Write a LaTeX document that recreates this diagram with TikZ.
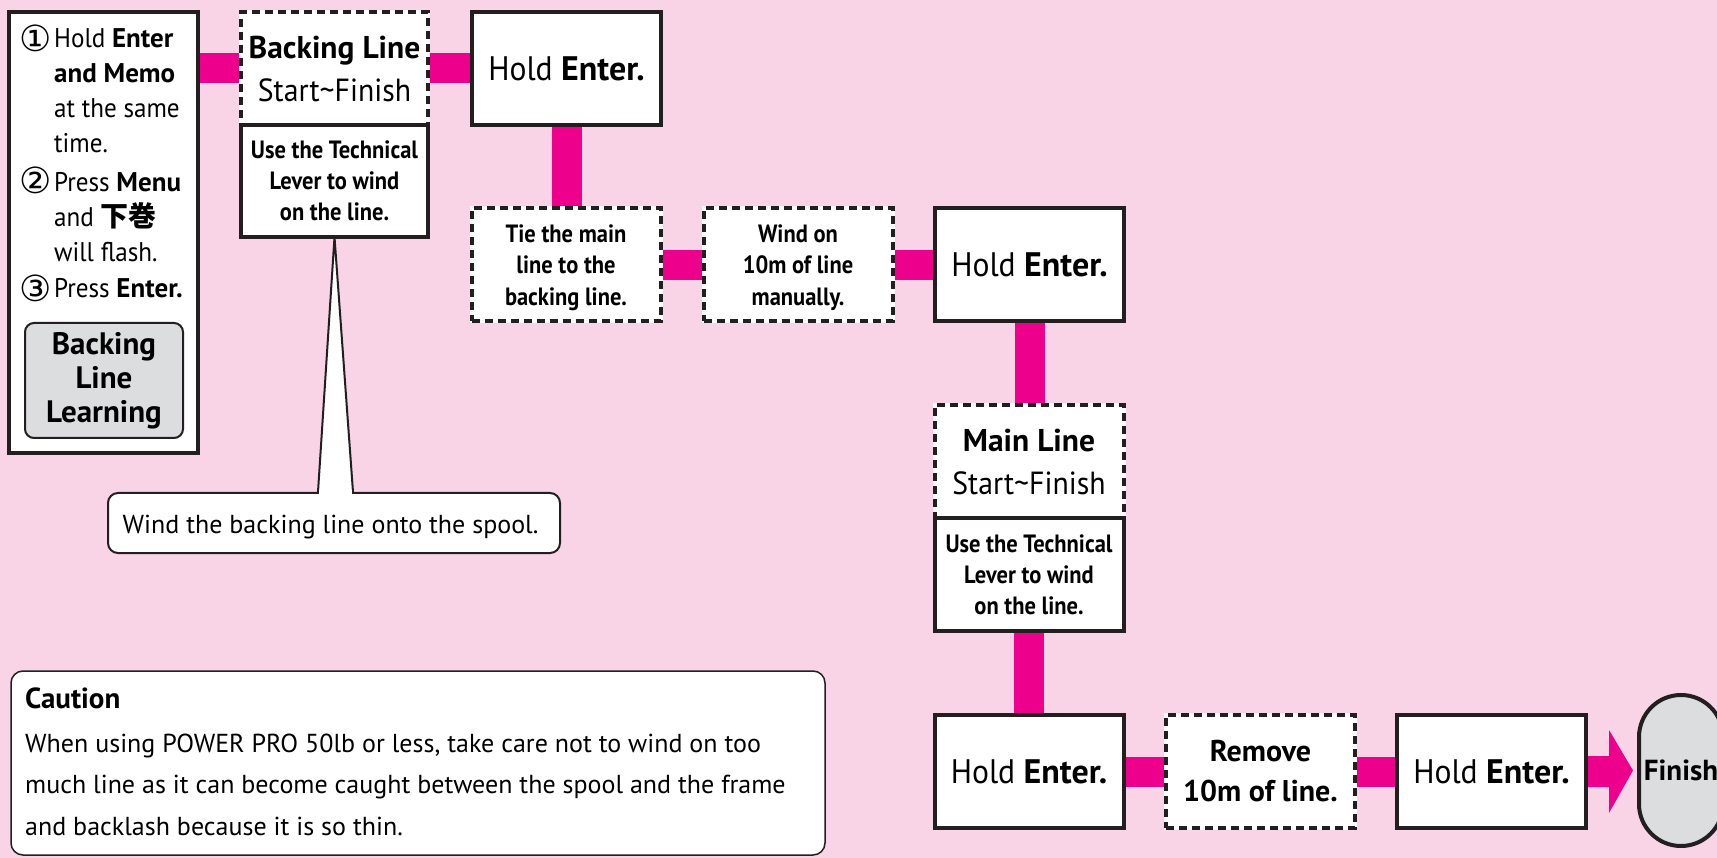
\documentclass[tikz,border=0pt]{standalone}
\usepackage{fontspec}
\setmainfont{PT Sans}[FakeStretch=0.93, BoldFeatures={FakeStretch=1.0}]
\newfontfamily\cond{PT Sans}[FakeStretch=0.9]
\newfontfamily\wide{PT Sans}
\newfontfamily\cjk{Noto Sans CJK JP}
\newfontfamily\dejavu{DejaVu Sans}
\usetikzlibrary{calc}
\pgfdeclarelayer{back}
\pgfdeclarelayer{bg}
\pgfsetlayers{back,bg,main}
\definecolor{pinkbg}{HTML}{F9D3E6}
\definecolor{mag}{HTML}{EC008C}
\definecolor{ink}{HTML}{231F20}
\definecolor{grayfill}{HTML}{DCDDDE}
\newcommand\fs[2]{\fontsize{#1}{#2}\selectfont}
\begin{document}
\begin{tikzpicture}[x=1pt,y=-1pt,
  box/.style={draw=ink, fill=white, line width=4pt, minimum width=189pt, minimum height=113pt, inner sep=0pt, outer sep=0pt, align=center},
  dbox/.style={box, dash pattern=on 8pt off 5pt, preaction={draw=white, solid}},
  conn/.style={draw=mag, line width=30pt},
  holdtxt/.style={font=\fs{34}{40}},
  techtxt/.style={font=\cond\bfseries\fs{25}{31}},
  smalltxt/.style={font=\cond\bfseries\fs{25}{31.5}, align=center, inner sep=0pt},
  circnum/.style={font=\dejavu\fs{36}{36}, inner sep=0pt}]
\begin{pgfonlayer}{back}
\fill[pinkbg] (0,0) rectangle (1717,858);
\end{pgfonlayer}
\useasboundingbox (0,0) rectangle (1717,858);

% left instruction box
\node[box, minimum width=189pt, minimum height=441pt] (left) at (103.5,232.5) {};
\node[anchor=base west, inner sep=0pt, font=\fs{27}{35}] (ltext) at (54,48) {\begin{tabular}[t]{@{}l@{}}Hold \textbf{Enter}\\ \textbf{and Memo}\\ at the same\\ time.\\[4pt] Press \textbf{Menu}\\ and {\cjk\bfseries\fs{28}{35}下巻}\\ will flash.\\[1pt] Press \textbf{Enter.}\end{tabular}};
\node[circnum] (c1) at (36,38.5) {①};
\node[circnum] (c2) at (36,180) {②};
\node[circnum] (c3) at (36,288.5) {③};
\node[draw=ink, fill=grayfill, line width=2pt, rounded corners=9pt, minimum width=158pt, minimum height=115pt, inner sep=0pt, align=center, font=\bfseries\fs{31}{34}] (learn) at (104,380.5) {Backing\\Line\\Learning};

% backing line
\node[dbox, minimum width=187pt, font=\fs{32}{43}] (bl) at (334.5,68.5) {{\bfseries\fontsize{31.5}{43}\selectfont Backing Line}\\Start\textasciitilde Finish};
\node[box, minimum width=187pt, minimum height=112pt, techtxt] (t1) at (334.5,181) {Use the Technical\\Lever to wind\\on the line.};

\node[box, holdtxt] (h1) at (566.5,68.5) {Hold \textbf{Enter.}};
\node[dbox] (tie) at (566,265) {};
\node[smalltxt] (tietxt) at (566,267.5) {Tie the main\\line to the\\backing line.};
\node[dbox] (wind) at (798,265) {};
\node[smalltxt] (windtxt) at (798,267.5) {Wind on\\10m of line\\manually.};
\node[box, holdtxt] (h2) at (1029.5,265) {Hold \textbf{Enter.}};

\node[dbox, font=\fs{32}{43}] (ml) at (1029,461.5) {{\bfseries\fontsize{31.5}{43}\selectfont Main Line}\\Start\textasciitilde Finish};
\node[box, techtxt] (t2) at (1029,574.5) {Use the Technical\\Lever to wind\\on the line.};

\node[box, holdtxt] (h3) at (1029,771.5) {Hold \textbf{Enter.}};
\node[dbox, font=\bfseries\fs{30}{40}] (rm) at (1260.5,771.5) {Remove\\10m of line.};
\node[box, holdtxt] (h4) at (1491.5,771.5) {Hold \textbf{Enter.}};
\node[draw=ink, fill=grayfill, line width=4pt, rounded corners=42pt, minimum width=84pt, minimum height=151pt, inner sep=0pt, font=\bfseries\fs{29}{34}] (fin) at (1681,770.5) {Finish};

% callout bubble
\node[draw=ink, fill=white, line width=2pt, rounded corners=10pt, minimum width=452pt, minimum height=60pt, inner sep=0pt] (bub) at (334,523) {};
\node[anchor=base, inner sep=0pt, font=\wide\fs{26}{30}] (bubtxt) at (330.5,533) {Wind the backing line onto the spool.};
\filldraw[fill=white, draw=ink, line width=2pt] ($(bub.north)+(-16,0)$) -- (t1.south) -- ($(bub.north)+(19,0)$);
\fill[white] ($(bub.north)+(-15,-1.6)$) rectangle ($(bub.north)+(18,1.6)$);

% caution
\node[draw=ink, fill=white, line width=1.5pt, rounded corners=12pt, minimum width=814pt, minimum height=184pt, inner sep=0pt] (cau) at (418,763) {};
\node[anchor=base west, inner sep=0pt, font=\bfseries\fs{29}{30}] (cauT) at (25,708) {Caution};
\node[anchor=base west, inner sep=0pt, font=\wide\fs{26}{41.5}] (cauB) at (25,752) {\begin{tabular}[t]{@{}l@{}}When using POWER PRO 50lb or less, take care not to wind on too\\ much line as it can become caught between the spool and the frame\\ and backlash because it is so thin.\end{tabular}};

% connectors
\begin{pgfonlayer}{bg}
\draw[conn] (left.east |- bl.west) -- (bl.west);
\draw[conn] (bl.east) -- (h1.west);
\draw[conn] (h1.south) -- (h1.south |- tie.north);
\draw[conn] (tie.east) -- (wind.west);
\draw[conn] (wind.east) -- (h2.west);
\draw[conn] (h2.south) -- (h2.south |- ml.north);
\draw[conn] (t2.south) -- (t2.south |- h3.north);
\draw[conn] (h3.east) -- (rm.west);
\draw[conn] (rm.east) -- (h4.west);
\fill[mag] ($(h4.east)+(0,-15.5)$) -- ($(h4.east)+(23,-15.5)$) -- ($(h4.east)+(23,-41.5)$) -- ($(fin.west)+(-4,0)$) -- ($(h4.east)+(23,41.5)$) -- ($(h4.east)+(23,15.5)$) -- ($(h4.east)+(0,15.5)$) -- cycle;
\end{pgfonlayer}
\end{tikzpicture}
\end{document}
